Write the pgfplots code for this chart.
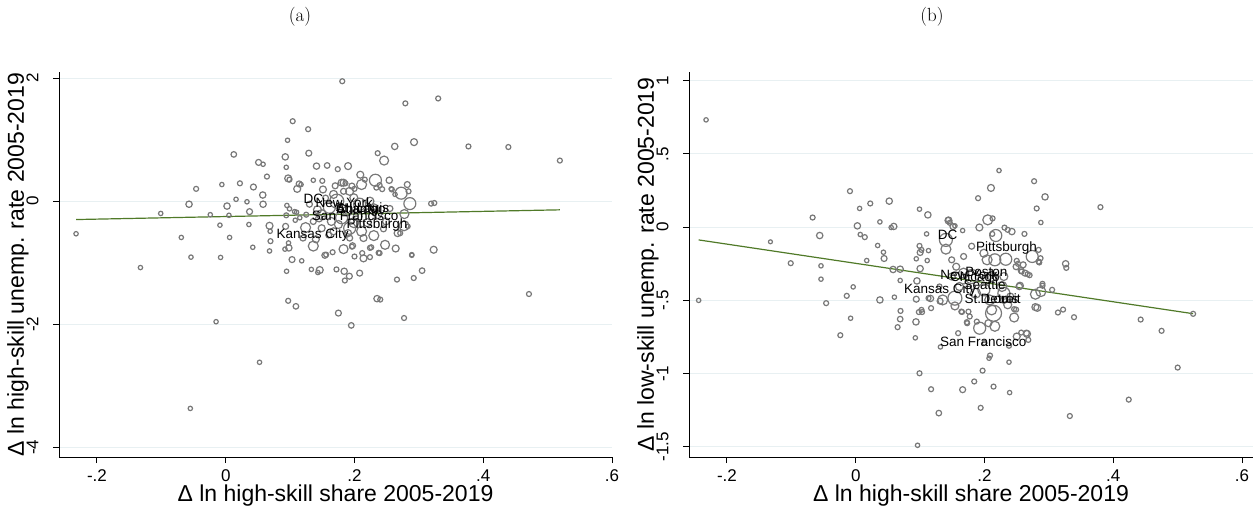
\documentclass[border=0pt]{standalone}
\usepackage{fontspec}
\usepackage{graphicx}
\usepackage{pgfplots}
\usepackage{pgfplotstable}
\pgfplotsset{compat=1.18}
\newfontfamily\arial{Liberation Sans}
\definecolor{gridc}{RGB}{232,240,242}
\definecolor{mkgray}{RGB}{120,120,120}
\definecolor{fitgreen}{RGB}{80,122,40}

\pgfplotstableread{
x y s
-0.2325 -0.53 2.2
-0.1325 -1.08 2.2
-0.101 -0.20 2.2
-0.069 -0.59 2.2
-0.057 -0.05 3.2
-0.054 -0.91 2.2
-0.055 -3.37 2.2
-0.046 0.20 2.5
-0.024 -0.22 2.2
-0.015 -1.96 2.2
-0.009 -0.39 2.2
-0.008 -0.915 2.2
-0.006 0.27 2.2
0.002 -0.08 3.2
0.005 -0.23 2.2
0.006 -0.59 2.2
0.0125 0.76 2.8
0.016 0.03 2.2
0.022 0.29 2.5
0.033 -0.01 2.2
0.036 -0.38 2.2
0.037 -0.17 3.0
0.042 -0.75 2.2
0.043 0.23 3.0
0.051 0.63 3.0
0.0525 -2.62 2.2
0.058 0.60 2.2
0.0575 0.10 3.2
0.058 -0.05 3.2
0.064 0.40 2.5
0.068 -0.40 3.5
0.069 -0.49 2.2
0.0695 -0.65 2.5
0.068 -0.81 2.2
0.0925 0.72 3.2
0.094 0.55 2.2
0.096 0.99 2.2
0.104 1.30 2.5
0.097 0.37 3.5
0.099 0.35 2.5
0.095 -0.07 2.2
0.099 -0.125 2.2
0.094 -0.23 2.5
0.093 -0.41 3.0
0.0975 -0.68 2.2
0.098 -0.76 3.2
0.092 -0.78 2.2
0.103 -0.95 3.0
0.0945 -1.14 2.2
0.097 -1.62 2.5
0.109 -1.71 2.8
0.118 -0.97 2.2
0.128 1.17 2.5
0.129 0.78 3.0
0.114 0.28 3.0
0.111 0.20 3.5
0.117 0.27 2.2
0.107 -0.17 2.2
0.108 -0.31 2.2
0.11 -0.18 2.2
0.115 -0.27 2.2
0.124 -0.43 5.0
0.136 -0.73 5.0
0.133 -1.11 2.2
0.136 0.34 2.2
0.141 0.57 3.2
0.1575 0.58 2.8
0.146 -1.12 3.5
0.143 -1.16 2.2
0.154 -0.88 3.0
0.166 -0.83 2.5
0.172 -1.11 2.5
0.175 -1.82 3.0
0.174 0.52 2.5
0.181 1.95 2.5
0.184 -1.14 3.2
0.185 -1.29 2.5
0.19 0.57 3.5
0.192 -1.22 3.0
0.195 -2.02 2.8
0.196 -0.74 2.5
0.183 -0.78 4.5
0.208 -1.17 3.0
0.209 0.43 3.5
0.212 -0.845 2.5
0.214 -0.93 3.5
0.224 -0.76 2.5
0.224 -0.91 2.5
0.235 -1.585 3.2
0.24 -1.60 2.5
0.2375 -0.84 2.5
0.2475 -0.71 4.5
0.236 0.78 2.5
0.246 0.66 4.5
0.2325 0.34 6.0
0.254 0.34 3.2
0.258 0.19 2.5
0.216 0.35 2.5
0.239 0.26 2.5
0.234 0.22 2.5
0.243 0.195 2.5
0.257 0.20 2.2
0.263 0.11 2.2
0.2625 0.89 3.2
0.264 -0.77 3.5
0.266 -1.275 2.5
0.267 -0.52 3.5
0.2725 0.13 6.0
0.2775 -0.21 4.5
0.279 1.59 2.5
0.282 0.27 3.0
0.284 0.16 2.5
0.286 -0.04 6.0
0.277 -0.40 5.0
0.283 -0.41 2.2
0.271 -0.52 2.5
0.277 -1.90 2.5
0.289 -0.88 2.2
0.292 -1.25 2.5
0.2925 0.96 3.5
0.305 -1.13 2.8
0.319 -0.04 2.5
0.324 -0.03 2.5
0.323 -0.79 3.5
0.33 1.67 2.5
0.377 0.89 2.5
0.439 0.88 2.5
0.471 -1.51 2.5
0.519 0.66 2.5
0.156 -0.87 2.5
0.197 -0.725 3.0
0.226 -0.75 2.5
0.239 -0.845 2.5
0.289 -0.87 2.2
0.183 0.30 3.5
0.211 0.27 5.0
0.196 0.245 3.0
0.186 0.29 2.5
0.2 0.20 2.5
0.1725 0.0 7.0
0.151 0.19 3.5
0.149 -0.22 5.0
0.18 -0.27 6.0
0.1925 -0.44 6.0
0.199 -0.35 5.0
0.211 -0.49 5.0
0.214 -0.60 3.5
0.23 -0.56 5.0
0.208 -0.05 6.0
0.161 -0.10 6.0
0.189 -0.16 5.0
0.1425 -0.14 4.0
0.1675 0.11 4.0
0.1925 0.16 4.0
0.224 0.0 4.0
0.236 -0.22 4.0
0.249 -0.33 3.5
0.164 -0.33 4.0
0.149 -0.44 3.5
0.18 0.30 3.5
0.183 0.16 3.0
0.199 0.055 4.0
0.1675 -0.49 3.5
0.1925 -0.60 3.0
0.136 -0.33 3.0
0.155 0.05 3.0
0.145 -0.28 3.5
0.175 -0.38 4.0
0.205 -0.25 4.5
0.22 -0.35 4.0
0.23 -0.10 3.5
0.16 -0.55 3.0
0.245 -0.45 3.0
0.17 0.25 3.0
0.15 0.33 2.5
0.13 -0.05 3.0
0.125 -0.22 2.5
0.19 -0.52 3.5
0.255 -0.12 3.0
0.12 -0.6 3.0
0.14 -0.62 3.5
0.2 -0.9 2.5
}\dataA

\pgfplotstableread{
x y s
-0.244 -0.50 2.2
-0.2325 0.733 2.2
-0.1325 -0.10 2.0
-0.101 -0.246 2.5
-0.067 0.066 2.5
-0.056 -0.057 3.2
-0.054 -0.264 2.2
-0.054 -0.355 2.2
-0.046 -0.519 2.5
-0.024 -0.738 2.5
-0.014 -0.469 2.5
-0.009 0.246 2.5
-0.008 -0.622 2.2
-0.004 -0.408 2.2
0.0025 0.009 3.2
0.006 0.128 2.2
0.007 -0.05 2.2
0.014 -0.068 2.5
0.017 -0.228 2.2
0.0225 0.162 2.5
0.034 -0.125 2.2
0.0375 0.036 2.2
0.043 -0.171 2.2
0.044 -0.214 3.0
0.0375 -0.497 3.2
0.052 0.178 3.2
0.055 -0.002 2.2
0.059 0.005 3.2
0.058 -0.289 3.2
0.06 -0.478 2.2
0.065 -0.683 2.5
0.069 -0.287 3.2
0.069 -0.364 2.2
0.0695 -0.572 2.5
0.069 -0.628 2.8
0.0925 -0.756 2.2
0.094 -0.216 2.2
0.094 -0.492 3.0
0.0935 -0.647 3.2
0.095 -0.367 3.2
0.099 0.123 2.2
0.099 -0.128 2.5
0.1 -0.173 3.0
0.1 -0.283 3.2
0.098 -0.58 2.5
0.103 -0.58 2.5
0.099 -0.998 2.5
0.096 -1.49 2.2
0.11 -0.046 2.2
0.112 0.084 3.2
0.111 -0.228 2.2
0.113 -0.16 2.2
0.102 -0.155 2.5
0.116 -0.487 3.2
0.117 -1.107 2.5
0.129 -1.27 2.8
0.1315 -0.818 2.2
0.135 -0.497 5.0
0.14 -0.087 6.5
0.144 0.046 3.5
0.151 0.004 3.0
0.154 0.009 2.2
0.154 -0.485 7.0
0.154 -0.538 4.0
0.165 -0.579 2.5
0.166 -1.11 3.0
0.159 -0.724 2.5
0.1725 -0.649 2.5
0.184 -1.054 2.5
0.19 0.198 2.5
0.192 -0.002 3.5
0.194 -1.234 2.5
0.197 -0.98 2.5
0.1925 -0.69 6.0
0.204 -0.223 5.0
0.205 0.05 5.0
0.21 0.268 3.5
0.2085 -0.877 2.5
0.207 -0.895 2.2
0.214 -1.089 2.5
0.216 -0.677 5.0
0.2175 -0.057 6.0
0.2225 0.387 2.2
0.216 -0.223 6.0
0.231 -0.003 2.5
0.236 -0.018 2.5
0.2425 -0.03 3.2
0.233 -0.219 6.0
0.238 -0.81 2.5
0.238 -0.922 2.2
0.239 -1.13 2.2
0.246 -0.617 4.5
0.249 -0.563 2.5
0.252 -0.25 2.5
0.255 -0.40 3.5
0.2575 -0.303 2.5
0.262 -0.046 2.5
0.266 -0.729 3.5
0.267 -0.321 2.5
0.268 -0.77 2.5
0.274 -0.20 6.0
0.277 0.314 2.5
0.279 -0.458 5.0
0.282 -0.551 3.5
0.281 0.128 2.5
0.285 -0.241 2.5
0.2875 0.032 2.2
0.2875 -0.44 5.0
0.29 -0.387 2.5
0.294 0.207 3.2
0.305 -0.428 2.5
0.314 -0.583 2.5
0.322 -0.563 2.5
0.326 -0.25 3.2
0.327 -0.278 2.5
0.3325 -1.29 2.5
0.339 -0.615 2.5
0.38 0.137 2.5
0.424 -1.178 2.5
0.4425 -0.631 2.5
0.475 -0.708 2.5
0.50 -0.959 2.5
0.524 -0.592 2.5
0.212 -0.046 2.5
0.166 -0.023 2.2
0.25 -0.23 2.5
0.26 -0.257 3.0
0.284 -0.235 2.5
0.284 -0.155 2.5
0.287 -0.212 2.5
0.257 -0.296 3.0
0.263 -0.314 3.0
0.27 -0.328 2.5
0.29 -0.40 2.5
0.254 -0.405 3.2
0.23 -0.497 3.5
0.24 -0.474 3.5
0.13 -0.405 2.5
0.113 -0.485 2.5
0.102 -0.565 2.5
0.117 -0.553 2.5
0.131 -0.505 3.0
0.164 -0.577 2.5
0.175 -0.577 2.5
0.177 -0.61 2.5
0.173 -0.656 2.5
0.188 -0.645 2.5
0.206 -0.656 3.5
0.211 -0.565 5.0
0.2 -0.79 2.5
0.25 -0.747 3.5
0.257 -0.72 2.5
0.265 -0.724 3.0
0.279 -0.546 3.5
0.246 -0.56 2.5
0.214 -0.588 8.0
0.23 -0.451 6.0
0.18 -0.337 7.0
0.199 -0.428 6.0
0.186 -0.451 5.0
0.1675 -0.314 5.0
0.211 -0.337 5.0
0.227 -0.405 5.0
0.208 -0.497 5.0
0.236 -0.53 4.0
0.161 -0.405 4.0
0.149 -0.337 3.5
0.156 -0.27 3.5
0.1675 -0.2 3.0
0.199 -0.178 4.0
0.249 -0.27 3.0
0.18 -0.13 3.0
0.149 -0.223 3.0
0.23 -0.337 4.0
0.14 -0.15 5.0
0.1435 0.05 2.5
0.146 0.03 2.5
0.2125 0.06 2.5
}\dataB

\pgfplotstableread[col sep=comma]{
x,y,label
0.136,0.03,DC
0.184,-0.03,New York
0.212,-0.10,St. Louis
0.205,-0.13,Atlanta
0.21,-0.15,Chicago
0.201,-0.24,San Francisco
0.235,-0.39,Pittsburgh
0.135,-0.55,Kansas City
}\labA

\pgfplotstableread[col sep=comma]{
x,y,label
0.1425,-0.053,DC
0.234,-0.143,Pittsburgh
0.203,-0.303,Boston
0.176,-0.326,New York
0.185,-0.35,Chicago
0.2,-0.394,Seattle
0.131,-0.428,Kansas City
0.211,-0.485,St. Louis
0.225,-0.485,Detroit
0.198,-0.78,San Francisco
}\labB

\pgfplotsset{
  stata/.style={
    scale only axis, height=385pt,
    axis x line*=bottom, axis y line*=left,
    axis line style={line width=1pt, black},
    tick align=outside, major tick length=6pt,
    tick style={line width=1pt, black},
    ymajorgrids, grid style={line width=1pt, gridc},
    xtick={-0.2,0,0.2,0.4,0.6}, xticklabels={-.2,0,.2,.4,.6},
    ticklabel style={font=\arial\fontsize{17}{20}\selectfont},
    xticklabel style={anchor=north, yshift=-3pt},
    yticklabel style={anchor=east, xshift=-11pt},
    label style={font=\arial\fontsize{23}{27}\selectfont},
    xlabel style={at={(axis description cs:0.5,0)}, anchor=center, yshift=-39pt},
    ylabel style={at={([xshift=-41pt]axis description cs:0,0.5)}, anchor=center},
    xlabel={Δ ln high-skill share 2005-2019},
  },
  bub/.style={scatter, only marks, mark=o, line width=1.2pt,
    scatter/use mapped color={draw=mkgray},
    visualization depends on={\thisrow{s} \as \msz},
    scatter/@pre marker code/.append style={/tikz/mark size=\msz}},
  labs/.style={only marks, mark=none, nodes near coords, point meta=explicit symbolic,
    nodes near coords align={center},
    every node near coord/.append style={anchor=center, inner sep=0pt, text=black,
      font=\arial\fontsize{13.5}{16}\selectfont}},
}

\begin{document}
\begin{tikzpicture}
\path[use as bounding box] (0,0) rectangle (1257pt,-512pt);
\node[font=\fontsize{19}{22}\selectfont] at (300pt,-17pt) {(a)};
\node[font=\fontsize{19}{22}\selectfont] at (932pt,-17pt) {(b)};

\begin{axis}[stata, at={(59pt,-457pt)}, anchor=south west, width=553pt,
  xmin=-0.259, xmax=0.6, ymin=-4.16, ymax=2.1,
  ytick={-4,-2,0,2},
  yticklabels={\rotatebox{90}{-4},\rotatebox{90}{-2},\rotatebox{90}{0},\rotatebox{90}{2}},
  ylabel={Δ ln high-skill unemp. rate 2005-2019}]
\addplot[bub] table[x=x,y=y,meta=s]{\dataA};
\addplot[fitgreen, line width=1.2pt, no marks] coordinates {(-0.2325,-0.299) (0.519,-0.141)};
\addplot[labs] table[x=x,y=y,meta=label]{\labA};
\end{axis}

\begin{axis}[stata, at={(689pt,-457pt)}, anchor=south west, width=564pt,
  xmin=-0.259, xmax=0.617, ymin=-1.57, ymax=1.06,
  ytick={-1.5,-1,-0.5,0,0.5,1},
  yticklabels={\rotatebox{90}{-1.5},\rotatebox{90}{-1},\rotatebox{90}{-.5},\rotatebox{90}{0},\rotatebox{90}{.5},\rotatebox{90}{1}},
  ylabel={Δ ln low-skill unemp. rate 2005-2019}]
\addplot[bub] table[x=x,y=y,meta=s]{\dataB};
\addplot[fitgreen, line width=1.2pt, no marks] coordinates {(-0.244,-0.087) (0.524,-0.591)};
\addplot[labs] table[x=x,y=y,meta=label]{\labB};
\end{axis}
\end{tikzpicture}
\end{document}
